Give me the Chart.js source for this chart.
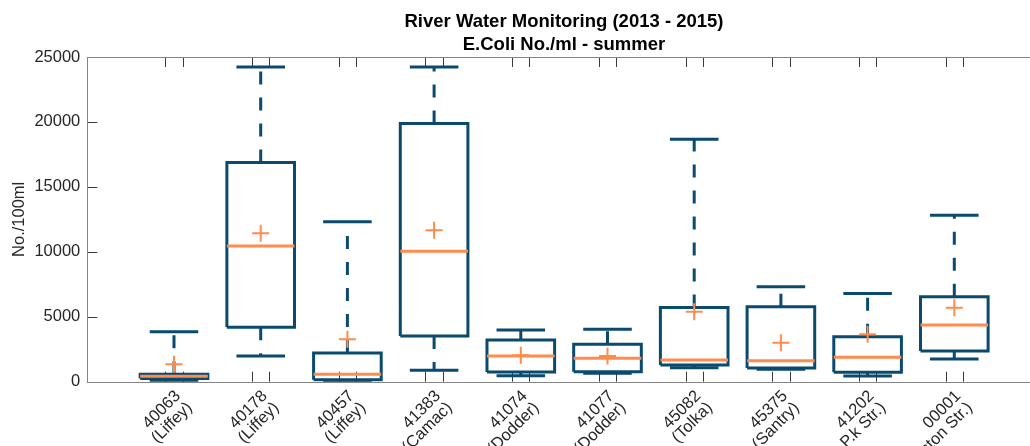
<!DOCTYPE html>
<html>
<head>
<meta charset="utf-8">
<script src="https://cdn.jsdelivr.net/npm/chart.js@4/dist/chart.umd.min.js"></script>
<style>
  html, body { margin: 0; padding: 0; background: #ffffff; overflow: hidden; width: 1030px; height: 446px; }
  #wrap { width: 1128px; height: 446px; }
</style>
</head>
<body>
<div id="wrap"><canvas id="c" width="1128" height="446" style="width:1128px;height:446px"></canvas></div>
<script>
// ---- data ----
const stationIds   = ['40063', '40178', '40457', '41383', '41074', '41077', '45082', '45375', '41202', '00001'];
const stationNames = ['(Liffey)', '(Liffey)', '(Liffey)', '(Camac)', '(Dodder)', '(Dodder)', '(Tolka)', '(Santry)', '(Glasnevin P.k Str.)', '(Preston Str.)'];
const whiskerLow   = [80, 1980, 80, 880, 460, 650, 1080, 950, 440, 1750];
const quartile1    = [250, 4190, 150, 3520, 750, 770, 1290, 1050, 720, 2360];
const medians      = [420, 10440, 570, 10050, 1980, 1800, 1670, 1620, 1880, 4360];
const quartile3    = [580, 16880, 2210, 19880, 3210, 2880, 5720, 5770, 3460, 6540];
const whiskerHigh  = [3850, 24230, 12310, 24230, 3980, 4030, 18670, 7310, 6800, 12810];
const means        = [1340, 11420, 3260, 11670, 2030, 1980, 5390, 3000, 3650, 5690];
const yTickValues  = [0, 5000, 10000, 15000, 20000, 25000];

// ---- styles ----
const BLUE = '#0b4a6f';
const ORANGE = '#ff8b4c';
const BOX_HALF = 0.39;   // in category units
const CAP_HALF = 0.28;
const PAIR_TICK = 0.1;

Chart.defaults.font.family = "'Liberation Sans', Arial, Helvetica, sans-serif";
Chart.defaults.color = '#262626';

const pos = stationIds.map((_, i) => i + 1);

const boxPts = [], medPts = [], capPts = [], whiskPts = [], meanPts = [];
pos.forEach((c, i) => {
  boxPts.push({x: c - BOX_HALF, y: quartile1[i]}, {x: c + BOX_HALF, y: quartile1[i]},
              {x: c + BOX_HALF, y: quartile3[i]}, {x: c - BOX_HALF, y: quartile3[i]},
              {x: c - BOX_HALF, y: quartile1[i]}, {x: c, y: null});
  medPts.push({x: c - BOX_HALF, y: medians[i]}, {x: c + BOX_HALF, y: medians[i]}, {x: c, y: null});
  capPts.push({x: c - CAP_HALF, y: whiskerHigh[i]}, {x: c + CAP_HALF, y: whiskerHigh[i]}, {x: c, y: null},
              {x: c - CAP_HALF, y: whiskerLow[i]}, {x: c + CAP_HALF, y: whiskerLow[i]}, {x: c, y: null});
  whiskPts.push({x: c, y: quartile3[i]}, {x: c, y: whiskerHigh[i]}, {x: c, y: null},
                {x: c, y: quartile1[i]}, {x: c, y: whiskerLow[i]}, {x: c, y: null});
  meanPts.push({x: c, y: means[i]});
});

const lineDefaults = {type: 'line', pointRadius: 0, pointHoverRadius: 0, tension: 0, fill: false,
                      spanGaps: false, borderCapStyle: 'butt', borderJoinStyle: 'miter'};

const frameTicks = {
  id: 'frameTicks',
  beforeDatasetsDraw(chart) {
    const {ctx, chartArea: a, scales: {x, y}} = chart;
    ctx.save();
    ctx.lineWidth = 1;
    ctx.strokeStyle = '#3a3a3a';
    const seg = (x1, y1, x2, y2) => { ctx.beginPath(); ctx.moveTo(x1, y1); ctx.lineTo(x2, y2); ctx.stroke(); };
    yTickValues.forEach(v => {
      const py = Math.round(y.getPixelForValue(v)) + 0.5;
      seg(a.left, py, a.left + 10, py);
      seg(a.right, py, a.right - 10, py);
    });
    pos.forEach(c => [-PAIR_TICK, PAIR_TICK].forEach(d => {
      const px = Math.round(x.getPixelForValue(c + d)) + 0.5;
      seg(px, a.top, px, a.top + 10);
      seg(px, a.bottom, px, a.bottom - 10);
    }));
    ctx.strokeStyle = '#858585';
    ctx.strokeRect(Math.round(a.left) + 0.5, Math.round(a.top) + 0.5,
                   Math.round(a.right - a.left), Math.round(a.bottom - a.top));
    ctx.restore();
  }
};

new Chart(document.getElementById('c'), {
  type: 'line',
  data: {
    datasets: [
      {type: 'scatter', label: 'mean', data: meanPts, showLine: false, pointStyle: 'cross',
       pointRadius: 8.5, pointHoverRadius: 8.5, borderColor: ORANGE, backgroundColor: ORANGE, pointBorderWidth: 2, borderWidth: 2},
      {...lineDefaults, label: 'median', data: medPts, borderColor: ORANGE, borderWidth: 3},
      {...lineDefaults, label: 'box', data: boxPts, borderColor: BLUE, borderWidth: 3},
      {...lineDefaults, label: 'cap', data: capPts, borderColor: BLUE, borderWidth: 3},
      {...lineDefaults, label: 'whisker', data: whiskPts, borderColor: BLUE, borderWidth: 3, borderDash: [13, 13]}
    ]
  },
  options: {
    responsive: false,
    animation: false,
    devicePixelRatio: 1,
    layout: {padding: 0},
    plugins: {
      legend: {display: false},
      tooltip: {enabled: false},
      title: {
        display: true,
        text: ['River Water Monitoring (2013 - 2015)', 'E.Coli No./ml - summer'],
        color: '#000000',
        font: {size: 18.5, weight: 'bold', lineHeight: 1.27},
        padding: {top: 10, bottom: 0}
      }
    },
    scales: {
      x: {
        type: 'linear', position: 'bottom', min: 0, max: 11,
        grid: {display: false, drawTicks: false},
        border: {display: false},
        afterBuildTicks: (s) => { s.ticks = pos.map(v => ({value: v})); },
        afterFit: (s) => { s.height = 446 - 381.7; },
        ticks: {
          autoSkip: false, minRotation: 45, maxRotation: 45, padding: 6, labelOffset: 4,
          font: {size: 16.5, lineHeight: 1.0}, color: '#262626',
          callback: (v) => { const i = Math.round(v) - 1; return [stationIds[i], stationNames[i]]; }
        }
      },
      y: {
        min: 0, max: 25000,
        grid: {display: false, drawTicks: false},
        border: {display: false},
        afterBuildTicks: (s) => { s.ticks = yTickValues.map(v => ({value: v})); },
        afterFit: (s) => { s.width = 87.3; },
        ticks: {padding: 7, font: {size: 16.5}, color: '#262626', callback: (v) => String(v)},
        title: {display: true, text: 'No./100ml', font: {size: 16.5}, color: '#262626', padding: {top: 10, bottom: 0}}
      },
      yRight: {
        position: 'right', min: 0, max: 25000,
        grid: {display: false, drawTicks: false},
        border: {display: false},
        ticks: {display: false},
        afterFit: (s) => { s.width = 87; }
      }
    }
  },
  plugins: [frameTicks]
});
</script>
</body>
</html>
